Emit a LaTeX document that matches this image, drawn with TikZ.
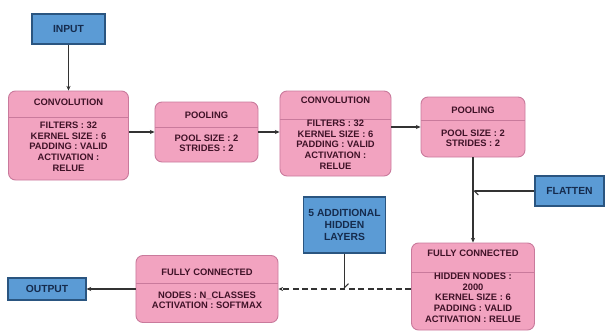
\documentclass[tikz,border=0pt]{standalone}
\usepackage{fontspec}
\setmainfont{Liberation Sans}
\usetikzlibrary{arrows.meta}
\definecolor{stagepink}{HTML}{F2A3C0}
\definecolor{stageedge}{HTML}{C97A9C}
\definecolor{stagetext}{HTML}{3F1227}
\definecolor{ioblue}{HTML}{5B9BD5}
\definecolor{ioedge}{HTML}{2A5580}
\definecolor{iotext}{HTML}{152B4D}
\definecolor{linkgray}{HTML}{333333}
\begin{document}
\begin{tikzpicture}[x=0.03cm,y=-0.03cm,
  stage/.style={draw=stageedge,fill=stagepink,rounded corners=6pt,line width=0.8pt,
    align=center,text=stagetext,inner sep=0pt,
    font=\fontsize{8}{9.2}\selectfont\bfseries,
    path picture={\draw[stageedge,line width=0.6pt]
      ([shift={(0,#1)}]path picture bounding box.north west) --
      ([shift={(0,#1)}]path picture bounding box.north east);}},
  stage/.default=26,
  io/.style={draw=ioedge,fill=ioblue,line width=0.9pt,align=center,text=iotext,
    inner sep=0pt,font=\fontsize{8.8}{10.5}\selectfont\bfseries},
  link/.style={line width=0.9pt,draw=linkgray,-{Stealth[length=4pt,width=3.5pt]}},
  joinline/.style={line width=0.9pt,draw=linkgray,-{Straight Barb[left,length=3.5pt,width=7pt]}}]
  \useasboundingbox (0,0) rectangle (608,334);

  \node[io,minimum width=2.19cm,minimum height=0.9cm] (input) at (68.5,29) {INPUT};
  \node[stage,minimum width=3.6cm,minimum height=2.67cm] (conv1) at (68.5,135.5)
    {CONVOLUTION\\[10pt]FILTERS : 32\\KERNEL SIZE : 6\\PADDING : VALID\\ACTIVATION :\\RELUE};
  \node[stage=25,minimum width=3.09cm,minimum height=1.8cm] (pool1) at (206.5,132)
    {POOLING\\[10pt]POOL SIZE : 2\\STRIDES : 2};
  \node[stage=28,minimum width=3.33cm,minimum height=2.55cm] (conv2) at (335.5,133.5)
    {CONVOLUTION\\[10pt]FILTERS : 32\\KERNEL SIZE : 6\\PADDING : VALID\\ACTIVATION :\\RELUE};
  \node[stage=23,minimum width=3.12cm,minimum height=1.8cm] (pool2) at (473,127)
    {POOLING\\[10pt]POOL SIZE : 2\\STRIDES : 2};
  \node[io,minimum width=2.07cm,minimum height=0.9cm] (flatten) at (569.5,191) {FLATTEN};
  \node[io,minimum width=2.46cm,minimum height=1.68cm] (hidden) at (344.5,225)
    {5 ADDITIONAL\\HIDDEN\\LAYERS};
  \node[stage=29,minimum width=3.69cm,minimum height=2.61cm] (fc1) at (473,286.5)
    {FULLY CONNECTED\\[10pt]HIDDEN NODES :\\2000\\KERNEL SIZE : 6\\PADDING : VALID\\ACTIVATION : RELUE};
  \node[stage=28,minimum width=4.26cm,minimum height=2.01cm] (fc2) at (207,289)
    {FULLY CONNECTED\\[10pt]NODES : N\_CLASSES\\ACTIVATION : SOFTMAX};
  \node[io,minimum width=2.34cm,minimum height=0.66cm] (output) at (47,289) {OUTPUT};

  \draw[link] (input) -- (conv1);
  \draw[link] (conv1.east |- pool1.west) -- (pool1.west);
  \draw[link] (pool1.east) -- (conv2.west |- pool1.east);
  \draw[link] (conv2.east |- pool2.west) -- (pool2.west);
  \draw[link] (pool2) -- (fc1);
  \coordinate (flatjoin) at (pool2.south |- flatten.west);
  \draw[joinline] (flatten) -- (flatjoin);
  \draw[link,dash pattern=on 5pt off 3pt] (fc1.west |- fc2.east) -- (fc2.east);
  \coordinate (hiddenjoin) at (hidden.south |- fc2.east);
  \draw[joinline] (hidden) -- (hiddenjoin);
  \draw[link] (fc2) -- (output);
\end{tikzpicture}
\end{document}
